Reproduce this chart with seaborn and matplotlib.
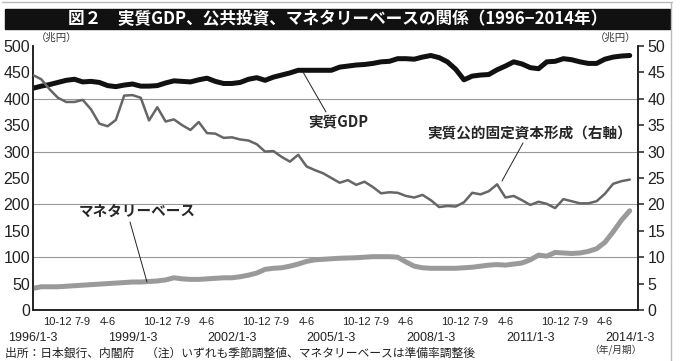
import numpy as np
import pandas as pd
import matplotlib
matplotlib.use("Agg")
import matplotlib.pyplot as plt
from matplotlib.lines import Line2D
from matplotlib.patches import Rectangle
import seaborn as sns

# quarterly data, 1996 Q1 .. 2014 Q1 (index 0..72)
quarters = list(range(73))

# real GDP, trillion yen (left axis)
gdp = [420, 424, 427, 431, 435, 437, 432, 433, 431, 425,
       423, 426, 428, 424, 424, 425, 430, 434, 433, 432,
       436, 439, 433, 429, 429, 431, 437, 440, 435, 441,
       445, 449, 454, 454, 454, 454, 454, 460, 462, 464,
       465, 467, 470, 471, 476, 476, 475, 479, 482, 478,
       470, 456, 436, 443, 445, 446, 455, 462, 470, 466,
       459, 457, 470, 471, 476, 474, 470, 467, 467, 475,
       479, 481, 482]

# real public fixed capital formation, trillion yen (right axis)
public_inv = [44.5, 43.7, 41.8, 40.2, 39.4, 39.4, 39.8, 38.0, 35.3, 34.8,
              36.0, 40.6, 40.7, 40.2, 35.9, 38.4, 35.7, 36.1, 35.0, 34.1,
              35.6, 33.5, 33.4, 32.6, 32.7, 32.3, 32.1, 31.4, 30.0, 30.1,
              29.0, 28.1, 29.4, 27.2, 26.5, 25.9, 25.0, 24.1, 24.6, 23.7,
              24.3, 23.3, 22.1, 22.3, 22.2, 21.6, 21.3, 21.8, 20.8, 19.5,
              19.7, 19.6, 20.4, 22.2, 21.9, 22.5, 23.8, 21.3, 21.6, 20.8,
              19.9, 20.5, 20.1, 19.3, 21.0, 20.6, 20.2, 20.2, 20.6, 22.0,
              23.9, 24.4, 24.7]

# monetary base, trillion yen (left axis)
monetary_base = [41, 44, 44, 44, 45, 46, 47, 48, 49, 50,
                 51, 52, 53, 53, 54, 55, 57, 61, 59, 58,
                 58, 59, 60, 61, 61, 63, 66, 70, 77, 79,
                 80, 83, 87, 92, 95, 96, 97, 98, 98.5, 99,
                 100, 101, 101, 101, 100, 91, 83, 80, 79, 79,
                 79, 79, 80, 81, 83, 85, 86, 85, 87, 89,
                 95, 104, 102, 109, 108, 107, 108, 111, 116, 128,
                 148, 170, 188]

major_pos = [0, 12, 24, 36, 48, 60, 72]
major_labels = ["1996/1-3", "1999/1-3", "2002/1-3", "2005/1-3",
                "2008/1-3", "2011/1-3", "2014/1-3"]
minor_cycle = ["10-12", "7-9", "4-6"]

df = pd.DataFrame({"q": quarters, "gdp": gdp, "pub": public_inv, "mb": monetary_base})

sns.set_style("white")
plt.rcParams["font.family"] = ["Noto Sans CJK JP", "DejaVu Sans"]
num_font = ["Liberation Sans Narrow", "Liberation Sans", "DejaVu Sans"]

W, H = 680, 361
fig = plt.figure(figsize=(6.8, 3.61), dpi=100)

def fx(px):
    return px / W

def fy(py):
    return 1 - py / H

# outer frame and title bar
fig.add_artist(Line2D([fx(2), fx(672)], [fy(2), fy(2)], color="#bbbbbb", lw=1))
fig.add_artist(Line2D([fx(671), fx(671)], [fy(2), fy(361)], color="#bbbbbb", lw=1))
fig.add_artist(Rectangle((fx(5), fy(29)), fx(665), 20 / H, color="#111111",
                         transform=fig.transFigure))
fig.text(fx(338), fy(19), "図２　実質GDP、公共投資、マネタリーベースの関係（1996−2014年）",
         color="white", fontsize=12, fontweight="bold", ha="center", va="center")

ax = fig.add_axes([fx(33), 1 - 310 / H, fx(638 - 33), (310 - 46) / H])
ax2 = ax.twinx()

for lvl in [100, 200, 300, 400]:
    ax.axhline(lvl, color="#999999", lw=0.8, zorder=0)

sns.lineplot(data=df, x="q", y="mb", ax=ax, color="#9a9a9a", lw=3.6, zorder=3)
sns.lineplot(data=df, x="q", y="gdp", ax=ax, color="#111111", lw=3.6, zorder=3)
sns.lineplot(data=df, x="q", y="pub", ax=ax2, color="#666666", lw=1.8, zorder=3)

ax.set_xlim(0, 73)
ax.set_ylim(0, 500)
ax2.set_ylim(0, 50)
ax.set_xlabel("")
ax.set_ylabel("")
ax2.set_ylabel("")

ax.set_yticks(range(0, 501, 50))
ax.set_yticklabels([str(v) for v in range(0, 501, 50)], family=num_font, fontsize=11.5)
ax2.set_yticks(range(0, 51, 5))
ax2.set_yticklabels([str(v) for v in range(0, 51, 5)], family=num_font, fontsize=11.5)
ax.tick_params(axis="y", length=0, pad=2, colors="#222222")
ax2.tick_params(axis="y", length=4, width=1.1, direction="out", pad=3, colors="#222222")

ax.set_xticks(major_pos)
ax.set_xticklabels(major_labels, family=num_font, fontsize=9)
minor_pos = [q for q in quarters if q not in major_pos]
minor_lab = [minor_cycle[(q % 12) // 3 - 1] if q % 3 == 0 else "" for q in minor_pos]
ax.set_xticks(minor_pos, minor=True)
ax.set_xticklabels(minor_lab, minor=True, family=num_font, fontsize=8)
ax.tick_params(axis="x", which="major", length=15, width=1.1, pad=1, colors="#222222")
ax.tick_params(axis="x", which="minor", length=3, width=0.8, pad=2, colors="#222222")

for a in (ax, ax2):
    a.spines["top"].set_visible(False)
    for s in ("left", "right", "bottom"):
        a.spines[s].set_color("#222222")
        a.spines[s].set_linewidth(1.2)

# unit labels
fig.text(fx(36), fy(38), "（兆円）", fontsize=7.5, ha="left", va="center", color="#333333")
fig.text(fx(636), fy(38), "（兆円）", fontsize=7.5, ha="right", va="center", color="#333333")
fig.text(fx(616), fy(350), "（年/月期）", fontsize=7, ha="center", va="center", color="#333333")

# series labels with leader lines
fig.text(fx(338), fy(121), "実質GDP", fontsize=10.5, fontweight="bold",
         ha="center", va="center")
fig.add_artist(Line2D([fx(326), fx(303)], [fy(112), fy(72)], color="#222222", lw=0.7))

fig.text(fx(530), fy(133), "実質公的固定資本形成（右軸）", fontsize=10.5,
         fontweight="bold", ha="center", va="center")
fig.add_artist(Line2D([fx(523), fx(502)], [fy(143), fy(181)], color="#222222", lw=0.7))

fig.text(fx(137), fy(211), "マネタリーベース", fontsize=10.5,
         fontweight="bold", ha="center", va="center")
fig.add_artist(Line2D([fx(130), fx(147)], [fy(222), fy(282)], color="#222222", lw=0.7))

fig.text(fx(5), fy(353), "出所：日本銀行、内閣府　（注）いずれも季節調整値、マネタリーベースは準備率調整後",
         fontsize=8.5, ha="left", va="center", color="#222222")

fig.savefig("out.png", dpi=100)
